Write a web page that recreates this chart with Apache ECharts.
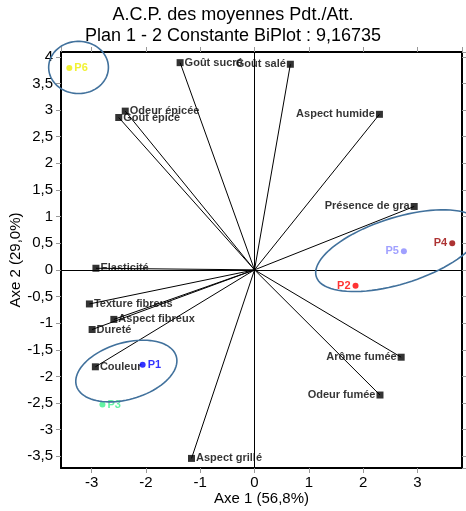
<!DOCTYPE html>
<html>
<head>
<meta charset="utf-8">
<script src="https://cdn.jsdelivr.net/npm/echarts@6/dist/echarts.min.js"></script>
<style>
html, body { margin: 0; padding: 0; background: #fff; }
#main { width: 466px; height: 511px; }
</style>
</head>
<body>
<div id="main"></div>
<script>
// variables (attributs)
var varNames = ['Goût sucré', 'Goût salé', 'Odeur épicée', 'Goût épicé', 'Aspect humide', 'Présence de gra',
    'Elasticité', 'Texture fibreus', 'Aspect fibreux', 'Dureté', 'Couleur', 'Aspect grillé', 'Arôme fumée', 'Odeur fumée'];
var varX = [-1.37, 0.66, -2.38, -2.50, 2.30, 2.94, -2.92, -3.04, -2.59, -2.99, -2.93, -1.16, 2.70, 2.31];
var varY = [3.89, 3.86, 2.98, 2.86, 2.92, 1.19, 0.03, -0.64, -0.93, -1.12, -1.82, -3.54, -1.64, -2.35];

// produits
var indNames = ['P1', 'P2', 'P3', 'P4', 'P5', 'P6'];
var indX = [-2.06, 1.86, -2.80, 3.64, 2.75, -3.41];
var indY = [-1.78, -0.30, -2.53, 0.50, 0.35, 3.79];

// ellipses de regroupement
var ellCx = [-3.24, -2.36, 2.65];
var ellCy = [3.80, -1.90, 0.36];
var ellA = [0.55, 0.96, 1.59];
var ellB = [0.49, 0.53, 0.62];
var ellAngle = [0, 17, 18];

var leftLabels = ['Goût salé', 'Aspect humide', 'Présence de gra', 'Arôme fumée', 'Odeur fumée', 'P2', 'P4', 'P5'];
var indColors = ['#0000ff', '#ff0000', '#3cf08c', '#990000', '#8888ff', '#eeee00'];
var font = 'Liberation Sans, Arial, sans-serif';

var myChart = echarts.init(document.getElementById('main'));

var varData = varNames.map(function (n, i) {
    return {
        name: n,
        value: [varX[i], varY[i]],
        label: { position: leftLabels.indexOf(n) >= 0 ? 'left' : 'right' }
    };
});
var indData = indNames.map(function (n, i) {
    return {
        name: n,
        value: [indX[i], indY[i]],
        itemStyle: { color: indColors[i] },
        label: { color: indColors[i], position: leftLabels.indexOf(n) >= 0 ? 'left' : 'right' }
    };
});
var ellData = ellCx.map(function (c, i) {
    return [c, ellCy[i], ellA[i], ellB[i], ellAngle[i]];
});

function axisBase(pos) {
    return {
        type: 'value',
        position: pos,
        axisLine: { show: true, onZero: false, lineStyle: { color: '#000', width: 2 } },
        axisTick: { show: true, length: 5, lineStyle: { color: '#999' } },
        splitLine: { show: false },
        axisLabel: { show: false }
    };
}

var xMin = -3.563, xMax = 3.82, yMin = -3.72, yMax = 4.09;

var xBottom = axisBase('bottom');
xBottom.min = xMin; xBottom.max = xMax; xBottom.splitNumber = 7;
xBottom.axisLabel = { show: true, showMinLabel: false, showMaxLabel: false, fontSize: 15, color: '#000', margin: 7, fontFamily: font };
xBottom.name = 'Axe 1 (56,8%)';
xBottom.nameLocation = 'middle';
xBottom.nameGap = 23;
xBottom.nameMoveOverlap = false;
xBottom.nameTextStyle = { fontSize: 15, color: '#000', fontFamily: font };
var xTop = axisBase('top');
xTop.min = xMin; xTop.max = xMax; xTop.splitNumber = 7;

var yLeft = axisBase('left');
yLeft.min = yMin; yLeft.max = yMax; yLeft.splitNumber = 15;
yLeft.axisLabel = {
    show: true, showMinLabel: false, showMaxLabel: false, fontSize: 15, color: '#000', margin: 8, fontFamily: font,
    formatter: function (v) { return String(v).replace('.', ','); }
};
yLeft.name = 'Axe 2 (29,0%)';
yLeft.nameLocation = 'middle';
yLeft.nameGap = 38;
yLeft.nameMoveOverlap = false;
yLeft.nameTextStyle = { fontSize: 15, color: '#000', fontFamily: font };
var yRight = axisBase('right');
yRight.min = yMin; yRight.max = yMax; yRight.splitNumber = 15;

option = {
    animation: false,
    title: {
        text: 'A.C.P. des moyennes Pdt./Att.\nPlan 1 - 2 Constante BiPlot : 9,16735',
        left: 'center',
        top: 0,
        textStyle: { fontSize: 18, fontWeight: 'normal', color: '#000', lineHeight: 21, fontFamily: font }
    },
    grid: { left: 61, right: 4, top: 52, bottom: 43, containLabel: false, outerBoundsMode: 'none' },
    xAxis: [xBottom, xTop],
    yAxis: [yLeft, yRight],
    series: [
        {
            // vecteurs depuis l'origine
            type: 'custom',
            name: 'vecteurs',
            data: varData.map(function (d) { return d.value; }),
            renderItem: function (params, api) {
                var o = api.coord([0, 0]);
                var p = api.coord([api.value(0), api.value(1)]);
                return {
                    type: 'line',
                    shape: { x1: o[0], y1: o[1], x2: p[0], y2: p[1] },
                    style: { stroke: '#000', lineWidth: 1 }
                };
            },
            silent: true,
            z: 1
        },
        {
            type: 'scatter',
            name: 'variables',
            symbol: 'rect',
            symbolSize: 7,
            itemStyle: { color: '#000' },
            label: {
                show: true,
                formatter: '{b}',
                distance: 1,
                fontSize: 11,
                fontWeight: 'bold',
                color: '#000',
                fontFamily: font
            },
            data: varData,
            markLine: {
                silent: true,
                symbol: 'none',
                label: { show: false },
                lineStyle: { color: '#000', width: 1, type: 'solid' },
                data: [{ xAxis: 0 }, { yAxis: 0 }]
            },
            z: 3
        },
        {
            type: 'scatter',
            name: 'produits',
            symbol: 'circle',
            symbolSize: 6,
            label: {
                show: true,
                formatter: '{b}',
                distance: 2,
                fontSize: 11,
                fontWeight: 'bold',
                fontFamily: font
            },
            data: indData,
            z: 4
        },
        {
            type: 'custom',
            name: 'ellipses',
            clip: false,
            data: ellData,
            renderItem: function (params, api) {
                var cx = api.value(0), cy = api.value(1), a = api.value(2), b = api.value(3);
                var th = api.value(4) * Math.PI / 180;
                var pts = [];
                for (var k = 0; k < 90; k++) {
                    var t = 2 * Math.PI * k / 90;
                    var dx = a * Math.cos(t) * Math.cos(th) - b * Math.sin(t) * Math.sin(th);
                    var dy = a * Math.cos(t) * Math.sin(th) + b * Math.sin(t) * Math.cos(th);
                    pts.push(api.coord([cx + dx, cy + dy]));
                }
                return {
                    type: 'polygon',
                    shape: { points: pts },
                    style: { fill: 'none', stroke: '#41719c', lineWidth: 1.6 }
                };
            },
            silent: true,
            z: 5
        }
    ]
};

myChart.setOption(option);
</script>
</body>
</html>
